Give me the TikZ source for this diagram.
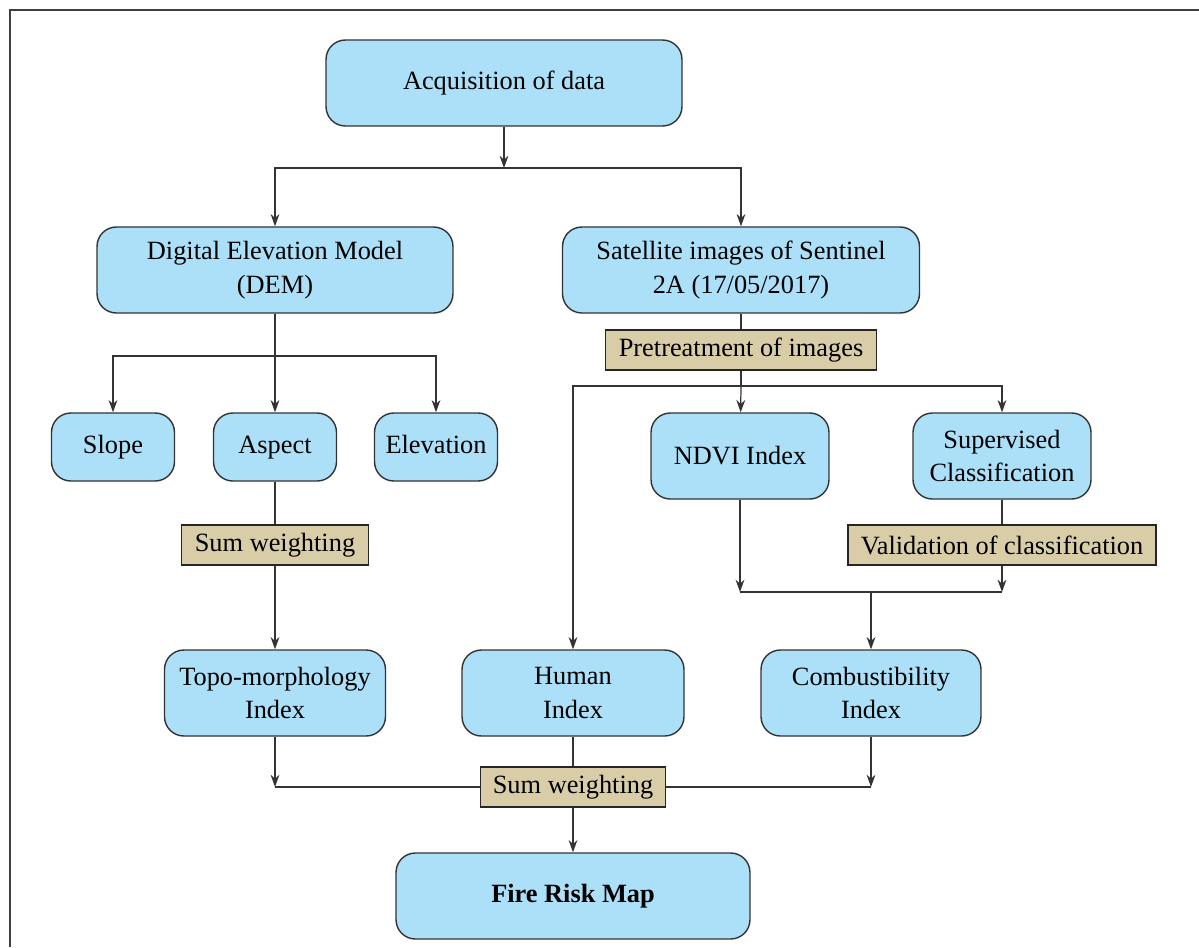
\documentclass[tikz,border=0pt]{standalone}
\usepackage{fontspec}
\setmainfont{Liberation Serif}
\usetikzlibrary{arrows.meta,positioning}
\definecolor{skyfill}{HTML}{ACE0F8}
\definecolor{tanfill}{HTML}{D9CDA8}

\begin{document}
\begin{tikzpicture}[
    x=0.02cm, y=-0.02cm,
    font=\fontsize{15}{19}\selectfont,
    procBox/.style={
        rectangle, rounded corners=11pt, draw=black!80, line width=0.8pt,
        fill=skyfill, align=center, inner sep=2pt, minimum height=1.72cm
    },
    smallBox/.style={procBox, minimum height=1.36cm, minimum width=2.46cm,
        text height=0.85em, text depth=0.1em},
    opBox/.style={
        rectangle, draw=black!85, line width=0.8pt,
        fill=tanfill, align=center, inner sep=2pt, minimum height=0.8cm
    },
    link/.style={draw=black!80, line width=0.7pt},
    flow/.style={link, -{Stealth[length=7pt, width=5pt]}}
]

\useasboundingbox (0,0) rectangle (1199,947);

% Frame
\draw[line width=1pt, black!75] (10,947) -- (10,10) -- (1199,10);

% Data sources
\node[procBox, minimum width=7.12cm] (acq) at (504,83) {Acquisition of data};
\node[procBox, minimum width=7.12cm] (dem) at (275,270) {Digital Elevation Model\\(DEM)};
\node[procBox, minimum width=7.14cm] (sat) at (741,270) {Satellite images of Sentinel\\2A (17/05/2017)};
\node[opBox, minimum width=5.42cm] (pre) at (741,350) {Pretreatment of images};

% Derived layers
\node[smallBox] (slope) at (113,447) {Slope};
\node[smallBox] (aspect) at (275,447) {Aspect};
\node[smallBox] (elev) at (436,447) {Elevation};
\node[procBox, minimum width=3.56cm] (ndvi) at (740,456) {NDVI Index};
\node[procBox, minimum width=3.56cm] (sup) at (1002,456) {Supervised\\Classification};

\node[opBox, minimum width=3.74cm] (sum1) at (275,545) {Sum weighting};
\node[opBox, minimum width=6.16cm] (valid) at (1002,545) {Validation of classification};

% Indices
\node[procBox, minimum width=4.42cm] (topo) at (275,693) {Topo-morphology\\Index};
\node[procBox, minimum width=4.44cm] (human) at (573,693) {Human\\Index};
\node[procBox, minimum width=4.40cm] (comb) at (871,693) {Combustibility\\Index};

\node[opBox, minimum width=3.70cm] (sum2) at (573,787) {Sum weighting};
\node[procBox, minimum width=7.08cm] (fire) at (573,896) {\textbf{Fire Risk Map}};

% Junctions
\coordinate (splitA) at (504,168);
\coordinate (splitB) at (275,356);
\coordinate (splitC) at (741,386);
\coordinate (joinL) at (740,592);
\coordinate (joinR) at (1002,592);
\coordinate (joinM) at (871,592);
\coordinate (sumL) at (275,787);
\coordinate (sumR) at (871,787);

% Top branch
\draw[flow] (acq) -- (splitA);
\draw[flow] (splitA) -| (dem.north);
\draw[flow] (splitA) -| (sat.north);

% DEM branch
\draw[link] (dem) -- (splitB);
\draw[flow] (splitB) -| (slope.north);
\draw[flow] (splitB) -- (aspect);
\draw[flow] (splitB) -| (elev.north);
\draw[link] (aspect) -- (sum1);
\draw[flow] (sum1) -- (topo);

% Satellite branch
\draw[link] (sat) -- (pre);
\draw[link] (pre) -- (splitC);
\draw[flow] (splitC) -- (ndvi);
\draw[flow] (splitC) -| (sup.north);
\draw[flow] (splitC) -| (human.north);
\draw[link] (sup) -- (valid);
\draw[flow] (valid) -- (joinR);
\draw[flow] (ndvi) -- (joinL);
\draw[link] (joinL) -- (joinR);
\draw[flow] (joinM) -- (comb);

% Final combination
\draw[flow] (topo) -- (sumL);
\draw[link] (sumL) -- (sum2);
\draw[link] (sum2) -- (sumR);
\draw[flow] (comb) -- (sumR);
\draw[link] (human) -- (sum2);
\draw[flow] (sum2) -- (fire);

\end{tikzpicture}
\end{document}
